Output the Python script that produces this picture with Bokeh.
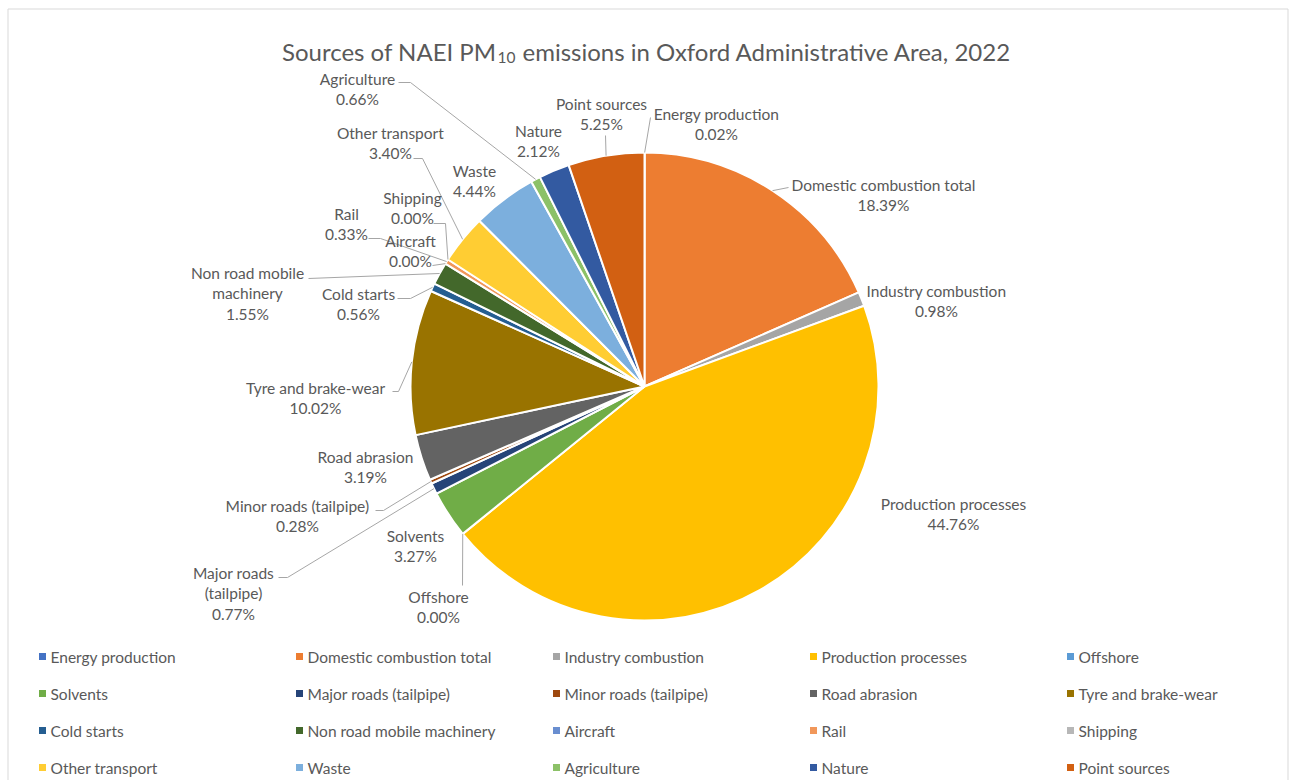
import numpy as np
from bokeh.plotting import figure
from bokeh.models import Range1d, ColumnDataSource
from bokeh.embed import file_html
from bokeh.resources import INLINE
from bokeh.core.properties import value

# ---------------- data ----------------
categories = [
    "Energy production", "Domestic combustion total", "Industry combustion",
    "Production processes", "Offshore", "Solvents", "Major roads (tailpipe)",
    "Minor roads (tailpipe)", "Road abrasion", "Tyre and brake-wear",
    "Cold starts", "Non road mobile machinery", "Aircraft", "Rail", "Shipping",
    "Other transport", "Waste", "Agriculture", "Nature", "Point sources",
]
shares = [0.02, 18.39, 0.98, 44.76, 0.00, 3.27, 0.77, 0.28, 3.19, 10.02,
          0.56, 1.55, 0.00, 0.33, 0.00, 3.40, 4.44, 0.66, 2.12, 5.25]
colors = ["#4472C4", "#ED7D31", "#A5A5A5", "#FFC000", "#5B9BD5", "#70AD47",
          "#264478", "#9E480E", "#636363", "#997300", "#255E91", "#43682B",
          "#698ED0", "#F1975A", "#B7B7B7", "#FFCD33", "#7CAFDD", "#8CC168",
          "#335AA1", "#D26012"]
title_parts = ["Sources of NAEI PM", "10", "emissions in Oxford Administrative Area, 2022"]

# ---------------- layout (screenshot pixel coordinates) ----------------
W, H = 1290, 780
def px(X):
    return X
def py(Y):
    return H - Y

FONT = "Lato"
TXT = "#595959"
LEAD = "#A6A6A6"
LABEL_SIZE = "15.5px"

label_wrap = {
    "Major roads (tailpipe)": ["Major roads", "(tailpipe)"],
    "Non road mobile machinery": ["Non road mobile", "machinery"],
}
label_anchor = {
    "Energy production": (716, 113), "Domestic combustion total": (883, 184),
    "Industry combustion": (936, 290), "Production processes": (953, 503),
    "Offshore": (438, 596), "Solvents": (415, 535),
    "Major roads (tailpipe)": (233, 572), "Minor roads (tailpipe)": (297, 505),
    "Road abrasion": (365, 456), "Tyre and brake-wear": (315, 387),
    "Cold starts": (358, 293), "Non road mobile machinery": (247, 272),
    "Aircraft": (410, 240), "Rail": (346, 213), "Shipping": (412, 197),
    "Other transport": (390, 132), "Waste": (474, 170), "Agriculture": (357, 78),
    "Nature": (538, 130), "Point sources": (601, 103),
}
leader_elbows = {
    "Energy production": [(650, 117)],
    "Domestic combustion total": [(788, 187)],
    "Offshore": [(462, 585)],
    "Major roads (tailpipe)": [(278, 577), (287, 577)],
    "Minor roads (tailpipe)": [(375, 510), (383, 510)],
    "Tyre and brake-wear": [(392, 391), (398, 391)],
    "Cold starts": [(397, 298), (410, 298)],
    "Non road mobile machinery": [(308, 278)],
    "Aircraft": [(432, 265)],
    "Rail": [(368, 238), (380, 238)],
    "Shipping": [(433, 223), (445, 223)],
    "Other transport": [(413, 158), (422, 158)],
    "Agriculture": [(398, 82), (410, 82)],
    "Point sources": [(605, 135)],
}
LINE_GAP = 20.5

p = figure(width=W, height=H, x_range=Range1d(0, W), y_range=Range1d(0, H),
           output_backend="svg", toolbar_location=None, min_border=0)
p.axis.visible = False
p.grid.visible = False
p.outline_line_color = None

# chart-area border
p.quad(left=[px(7.5)], right=[px(1287.5)], top=[py(8.5)], bottom=[py(790)],
       fill_color=None, line_color="#D9D9D9", line_width=1)

# ---------------- pie ----------------
cx, cy, R = px(644), py(386), 234
vals = np.array(shares, dtype=float)
frac = vals / vals.sum()
cum_end = np.cumsum(frac)
cum_start = cum_end - frac
start = np.pi / 2 - 2 * np.pi * cum_start
end = np.pi / 2 - 2 * np.pi * cum_end
mid = np.pi / 2 - 2 * np.pi * (cum_start + frac / 2)
mask = vals > 0
src = ColumnDataSource(dict(
    start=start[mask], end=end[mask],
    color=[c for c, m in zip(colors, mask) if m],
    name=[n for n, m in zip(categories, mask) if m],
))
p.wedge(x=cx, y=cy, radius=R, start_angle="start", end_angle="end",
        direction="clock", fill_color="color", line_color="white",
        line_width=2, source=src)

# ---------------- leader lines ----------------
lx, ly = [], []
for i, name in enumerate(categories):
    if name not in leader_elbows:
        continue
    xs = [px(X) for X, _ in leader_elbows[name]]
    ys = [py(Y) for _, Y in leader_elbows[name]]
    xs.append(cx + R * np.cos(mid[i]))
    ys.append(cy + R * np.sin(mid[i]))
    lx.append(xs)
    ly.append(ys)
p.multi_line(xs=lx, ys=ly, line_color=LEAD, line_width=1)

# ---------------- data labels ----------------
tx, ty, tt = [], [], []
for i, name in enumerate(categories):
    X, Y = label_anchor[name]
    lines = label_wrap.get(name, [name]) + [f"{shares[i]:.2f}%"]
    for k, line in enumerate(lines):
        tx.append(px(X))
        ty.append(py(Y + k * LINE_GAP))
        tt.append(line)
p.text(x=tx, y=ty, text=tt, text_font=value(FONT), text_font_size=LABEL_SIZE,
       text_color=TXT, text_align="center", text_baseline="middle")

# ---------------- title ----------------
p.text(x=[px(496)], y=[py(51)], text=[title_parts[0]], text_font=value(FONT),
       text_font_size="24px", text_color=TXT, text_align="right",
       text_baseline="alphabetic")
p.text(x=[px(497)], y=[py(57)], text=[title_parts[1]], text_font=value(FONT),
       text_font_size="15.5px", text_color=TXT, text_align="left",
       text_baseline="alphabetic")
p.text(x=[px(522)], y=[py(51)], text=[title_parts[2]], text_font=value(FONT),
       text_font_size="24px", text_color=TXT, text_align="left",
       text_baseline="alphabetic")

# ---------------- legend ----------------
col_x = [42, 299, 556, 813, 1070]
row_y = [656, 693, 730, 767]
mx, my, tx2, ty2 = [], [], [], []
for i, name in enumerate(categories):
    r, c = divmod(i, 5)
    mx.append(px(col_x[c]))
    my.append(py(row_y[r]))
    tx2.append(px(col_x[c] + 8))
    ty2.append(py(row_y[r]))
p.scatter(x=mx, y=my, marker="square", size=7, fill_color=colors,
          line_color=None)
p.text(x=tx2, y=ty2, text=categories, text_font=value(FONT),
       text_font_size=LABEL_SIZE, text_color=TXT, text_align="left",
       text_baseline="middle")

open("out.html", "w").write(file_html(p, INLINE))
